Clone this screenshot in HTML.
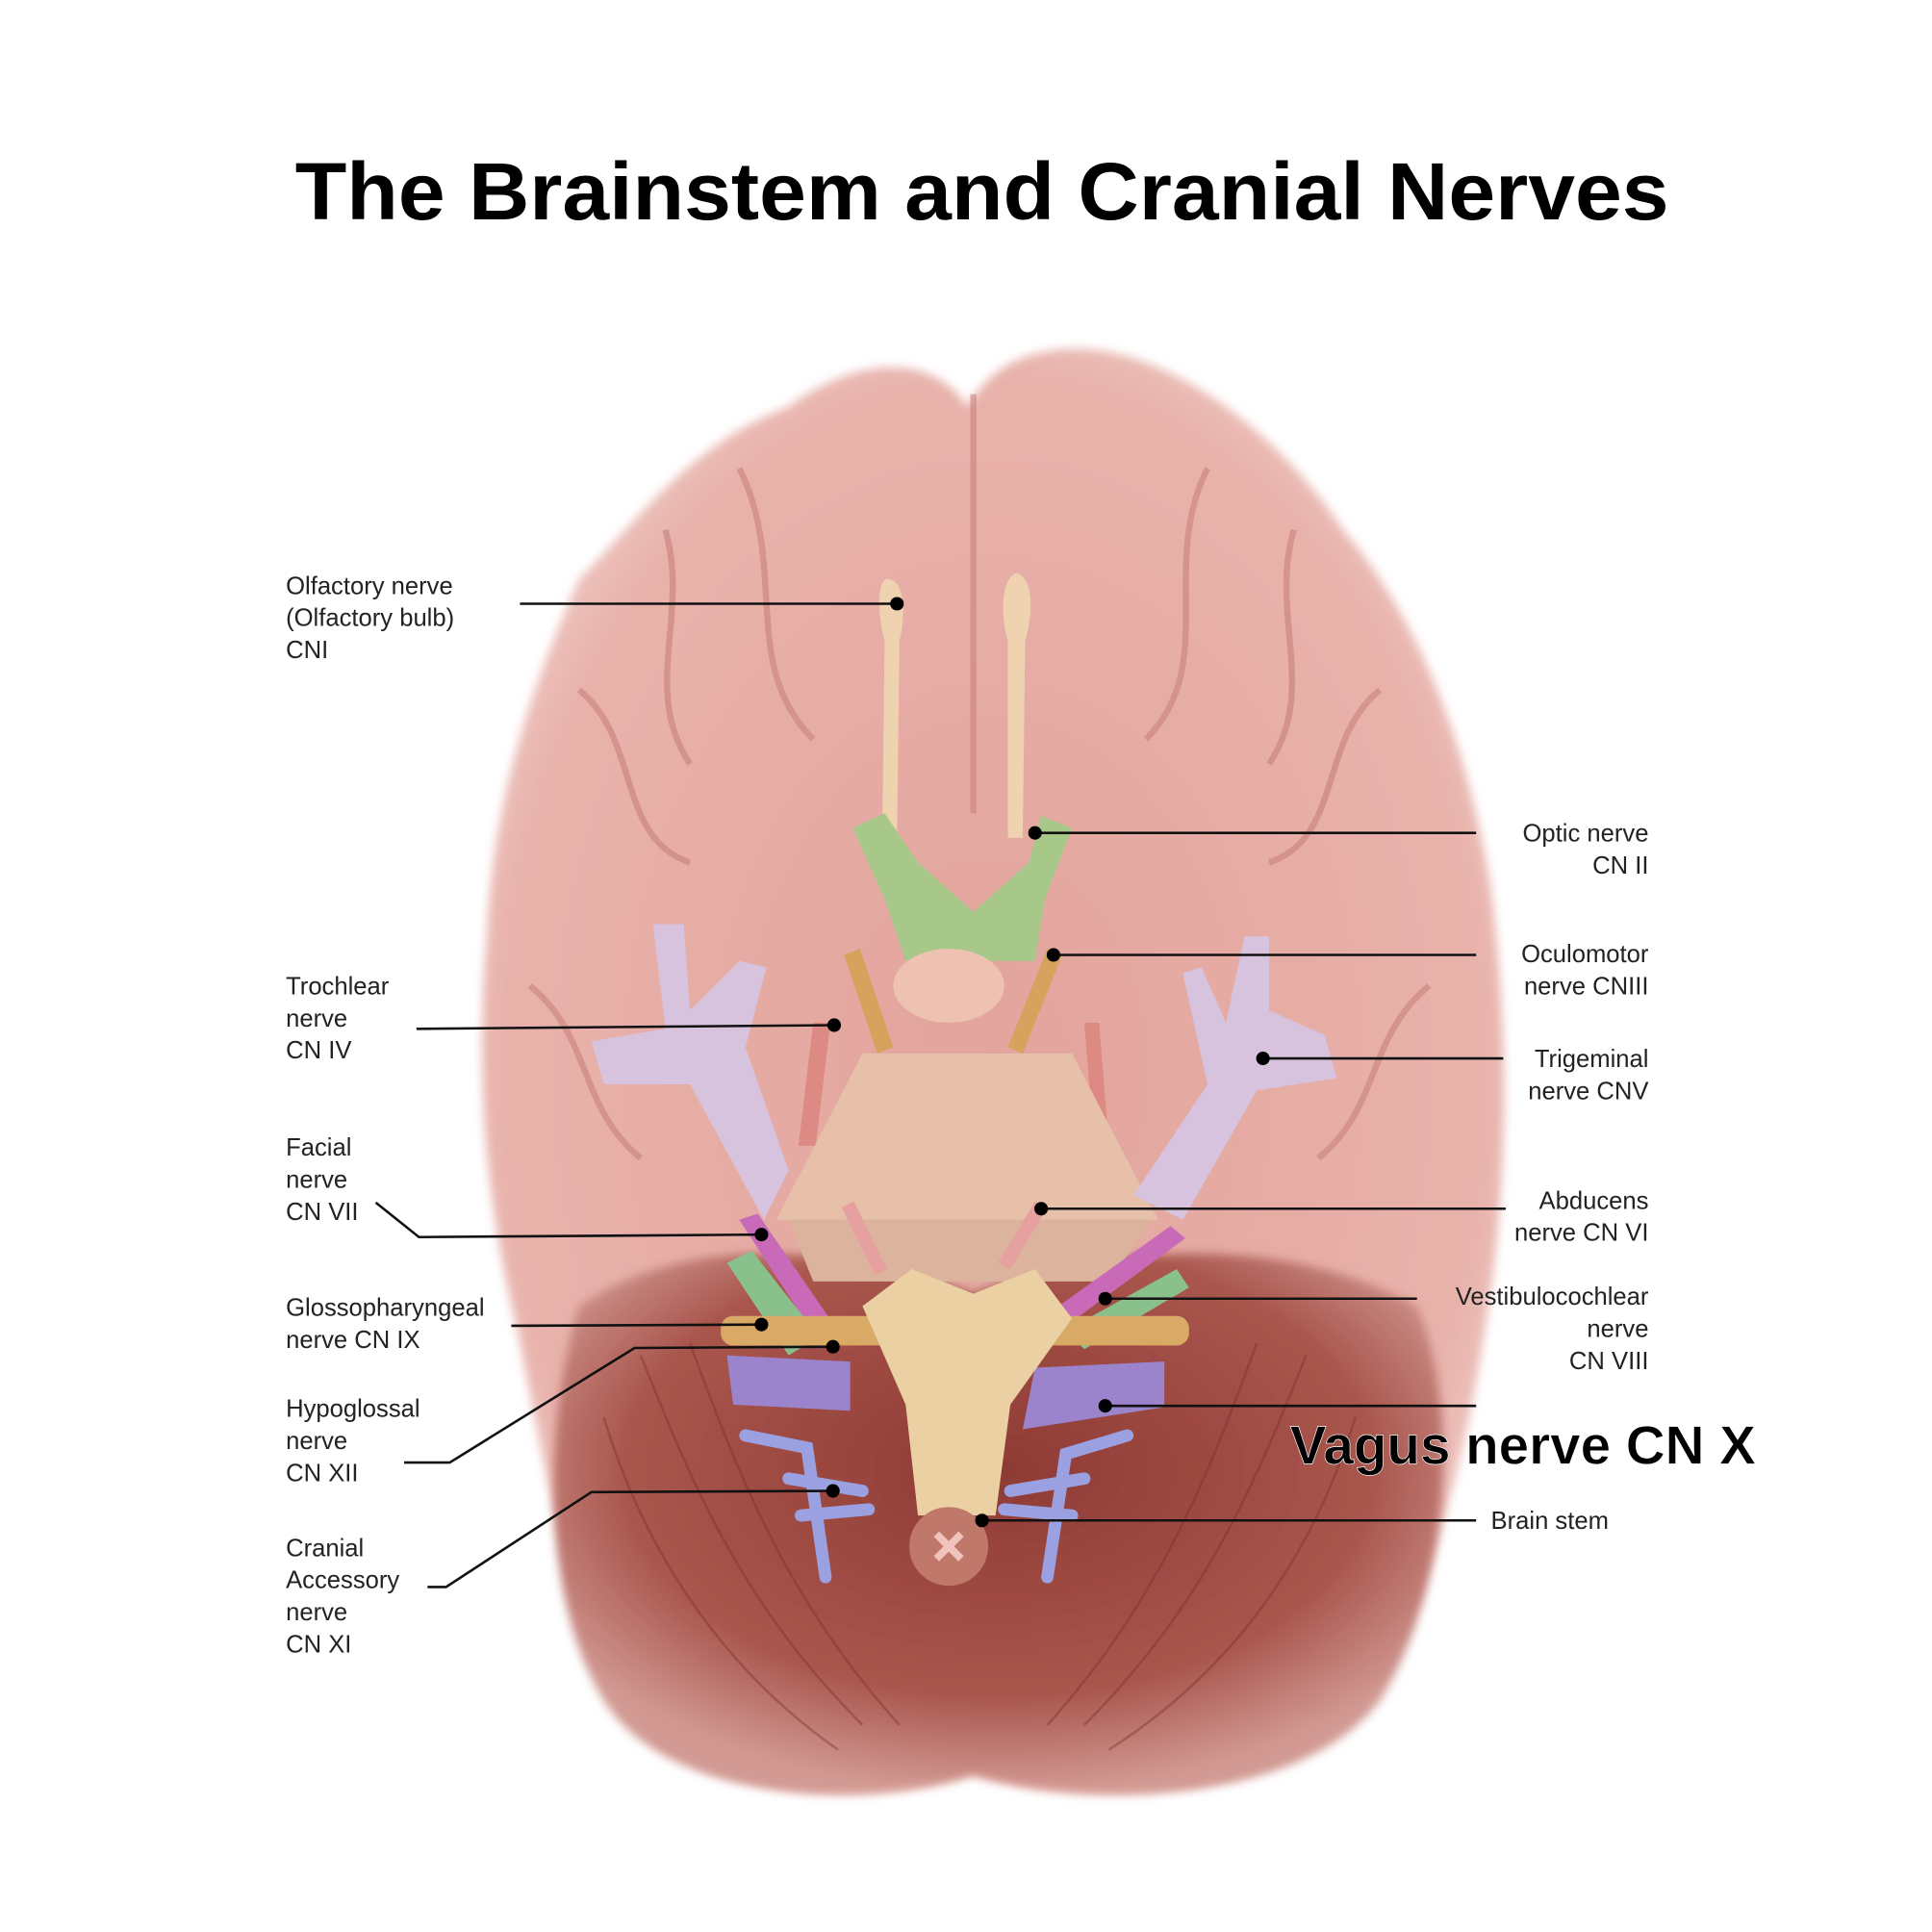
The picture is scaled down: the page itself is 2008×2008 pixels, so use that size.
<!DOCTYPE html>
<html><head><meta charset="utf-8"><style>
html,body{margin:0;padding:0;background:#fff;}
svg{display:block}
.l{font-family:"Liberation Sans",sans-serif;font-size:20px;fill:#222;}
.ln{stroke:#111;stroke-width:2;fill:none}
</style></head><body>
<svg width="2008" height="2008" viewBox="0 0 1568 1568" xmlns="http://www.w3.org/2000/svg">
<defs>
<radialGradient id="cb" cx="0.5" cy="0.4" r="0.6"><stop offset="0" stop-color="#8e3a34"/><stop offset="0.7" stop-color="#a9564d"/><stop offset="1" stop-color="#d29a93"/></radialGradient>
<radialGradient id="br" cx="0.5" cy="0.5" r="0.6"><stop offset="0" stop-color="#e2a49c"/><stop offset="0.8" stop-color="#e8b2ab"/><stop offset="1" stop-color="#f3d6d2"/></radialGradient>
<filter id="bl"><feGaussianBlur stdDeviation="4"/></filter>
</defs>
<rect width="1568" height="1568" fill="#fff"/>
<text x="797" y="178" text-anchor="middle" font-family="Liberation Sans,sans-serif" font-weight="bold" font-size="66" fill="#000" textLength="1115" lengthAdjust="spacingAndGlyphs">The Brainstem and Cranial Nerves</text>
<!-- cerebrum -->
<path d="M785,330 C760,290 700,285 640,330 C560,360 520,420 470,470 C430,560 400,650 395,760 C385,880 395,980 420,1080 C440,1180 460,1300 500,1380 C560,1460 700,1470 790,1440 C880,1470 1040,1460 1110,1380 C1160,1300 1190,1180 1205,1080 C1225,960 1225,840 1210,720 C1190,600 1150,500 1090,430 C1030,340 930,270 850,285 C820,290 800,305 785,330 Z" fill="url(#br)" filter="url(#bl)"/>
<!-- cerebellum -->
<path d="M470,1060 C560,1000 680,1010 790,1050 C900,1010 1040,1000 1150,1060 C1190,1160 1170,1300 1120,1380 C1060,1460 900,1470 790,1440 C690,1470 540,1460 490,1380 C440,1300 440,1160 470,1060 Z" fill="url(#cb)" filter="url(#bl)"/>
<g stroke="#c47d76" stroke-width="5" fill="none" opacity="0.55">
<path d="M790,320 L790,660"/><path d="M600,380 C640,460 600,540 660,600"/><path d="M980,380 C940,460 990,540 930,600"/>
<path d="M470,560 C520,600 500,680 560,700"/><path d="M1120,560 C1070,600 1090,680 1030,700"/>
<path d="M430,800 C480,840 470,900 520,940"/><path d="M1160,800 C1110,840 1120,900 1070,940"/>
<path d="M540,430 C560,500 520,560 560,620"/><path d="M1050,430 C1030,500 1070,560 1030,620"/>
</g>
<g stroke="#7a2e2a" stroke-width="2" fill="none" opacity="0.4">
<path d="M520,1100 C560,1200 600,1300 700,1400"/><path d="M560,1090 C600,1200 640,1300 730,1400"/><path d="M490,1150 C520,1250 580,1350 680,1420"/>
<path d="M1060,1100 C1020,1200 980,1300 880,1400"/><path d="M1020,1090 C980,1200 940,1300 850,1400"/><path d="M1100,1150 C1070,1250 1010,1350 900,1420"/>
</g>
<!-- olfactory -->
<path d="M720,470 C735,470 735,500 730,520 L728,680 L716,680 L718,520 C712,500 712,470 720,470Z" fill="#efd2b0"/>
<path d="M825,465 C840,470 838,500 832,520 L830,680 L818,680 L818,520 C812,500 812,470 825,465Z" fill="#efd2b0"/>
<!-- optic chiasm -->
<path d="M692,672 L718,660 L745,700 L790,740 L835,700 L845,662 L870,672 L848,730 L840,780 L735,780 L718,730 Z" fill="#a8c88a"/>
<ellipse cx="770" cy="800" rx="45" ry="30" fill="#edc2b0"/>
<!-- oculomotor -->
<path d="M685,775 L698,770 L725,850 L712,855Z" fill="#d6a25e"/>
<path d="M850,770 L862,775 L830,855 L818,850Z" fill="#d6a25e"/>
<!-- trochlear -->
<path d="M660,830 L674,830 L662,930 L648,930Z" fill="#de8a84"/>
<path d="M880,830 L892,830 L900,930 L888,930Z" fill="#de8a84"/>
<!-- pons -->
<path d="M700,855 L870,855 L940,990 L630,990 Z" fill="#e6c0a8"/>
<path d="M640,990 L935,990 L900,1040 L660,1040Z" fill="#dcb49e"/>
<!-- trigeminal -->
<path d="M530,750 L555,750 L560,820 L600,780 L622,785 L605,850 L640,950 L620,990 L560,880 L490,880 L480,845 L540,835 Z" fill="#d7c3de"/>
<path d="M1010,760 L1030,760 L1030,820 L1075,840 L1085,875 L1020,885 L960,990 L920,970 L980,880 L960,790 L975,785 L995,830 Z" fill="#d7c3de"/>
<!-- facial / vestibulocochlear -->
<path d="M600,990 L615,985 L680,1080 L665,1090Z" fill="#c86ab8"/>
<path d="M590,1025 L610,1015 L665,1085 L640,1100Z" fill="#89c08c"/>
<path d="M950,995 L962,1005 L860,1080 L848,1068Z" fill="#c86ab8"/>
<path d="M955,1030 L965,1045 L880,1095 L865,1080Z" fill="#89c08c"/>
<!-- abducens -->
<path d="M683,980 L693,975 L720,1030 L710,1035Z" fill="#e6a0a0"/>
<path d="M840,975 L850,980 L820,1030 L810,1025Z" fill="#e6a0a0"/>
<!-- glosso -->
<rect x="585" y="1068" width="380" height="24" rx="10" fill="#d9a966"/>
<!-- vagus -->
<path d="M590,1100 L690,1105 L690,1145 L595,1140Z" fill="#9c84cc"/>
<path d="M840,1110 L945,1105 L945,1142 L830,1160Z" fill="#9c84cc"/>
<!-- hypoglossal / accessory -->
<g stroke="#9aa0e0" stroke-width="10" fill="none" stroke-linecap="round">
<path d="M605,1165 L655,1175 L670,1280"/><path d="M640,1200 L700,1210"/><path d="M650,1230 L705,1225"/>
<path d="M915,1165 L865,1180 L850,1280"/><path d="M880,1200 L820,1210"/><path d="M870,1230 L815,1225"/>
</g>
<!-- medulla -->
<path d="M700,1060 L740,1030 L790,1050 L840,1030 L870,1070 L820,1140 L808,1230 L745,1230 L735,1140 Z" fill="#ead0a2"/>
<circle cx="770" cy="1255" r="32" fill="#c0786a"/>
<path d="M760,1245 L780,1265 M780,1245 L760,1265" stroke="#f0c4bc" stroke-width="6"/>
<!-- labels left -->
<text class="l"><tspan x="232" y="482">Olfactory nerve</tspan><tspan x="232" y="508">(Olfactory bulb)</tspan><tspan x="232" y="534">CNI</tspan></text>
<text class="l"><tspan x="232" y="807">Trochlear</tspan><tspan x="232" y="833">nerve</tspan><tspan x="232" y="859">CN IV</tspan></text>
<text class="l"><tspan x="232" y="938">Facial</tspan><tspan x="232" y="964">nerve</tspan><tspan x="232" y="990">CN VII</tspan></text>
<text class="l"><tspan x="232" y="1068">Glossopharyngeal</tspan><tspan x="232" y="1094">nerve CN IX</tspan></text>
<text class="l"><tspan x="232" y="1150">Hypoglossal</tspan><tspan x="232" y="1176">nerve</tspan><tspan x="232" y="1202">CN XII</tspan></text>
<text class="l"><tspan x="232" y="1263">Cranial</tspan><tspan x="232" y="1289">Accessory</tspan><tspan x="232" y="1315">nerve</tspan><tspan x="232" y="1341">CN XI</tspan></text>
<!-- labels right -->
<text class="l" text-anchor="end"><tspan x="1338" y="683">Optic nerve</tspan><tspan x="1338" y="709">CN II</tspan></text>
<text class="l" text-anchor="end"><tspan x="1338" y="781">Oculomotor</tspan><tspan x="1338" y="807">nerve CNIII</tspan></text>
<text class="l" text-anchor="end"><tspan x="1338" y="866">Trigeminal</tspan><tspan x="1338" y="892">nerve CNV</tspan></text>
<text class="l" text-anchor="end"><tspan x="1338" y="981">Abducens</tspan><tspan x="1338" y="1007">nerve CN VI</tspan></text>
<text class="l" text-anchor="end"><tspan x="1338" y="1059">Vestibulocochlear</tspan><tspan x="1338" y="1085">nerve</tspan><tspan x="1338" y="1111">CN VIII</tspan></text>
<text x="1047" y="1188" font-family="Liberation Sans,sans-serif" font-weight="bold" font-size="44" fill="#000" textLength="378" lengthAdjust="spacingAndGlyphs" stroke="#fff" stroke-width="0.5">Vagus nerve CN X</text>
<text class="l" x="1210" y="1241">Brain stem</text>
<!-- leader lines -->
<g class="ln">
<path d="M422,490 L728,490"/><path d="M840,676 L1198,676"/><path d="M855,775 L1198,775"/><path d="M1025,859 L1220,859"/>
<path d="M845,981 L1222,981"/><path d="M897,1054 L1150,1054"/><path d="M897,1141 L1198,1141"/><path d="M797,1234 L1198,1234"/>
<path d="M338,835 L677,832"/><path d="M305,976 L340,1004 L618,1002"/><path d="M415,1076 L618,1075"/>
<path d="M328,1187 L365,1187 L515,1094 L676,1093"/><path d="M347,1288 L362,1288 L480,1211 L676,1210"/>
</g>
<g fill="#000">
<circle cx="728" cy="490" r="5.5"/><circle cx="840" cy="676" r="5.5"/><circle cx="855" cy="775" r="5.5"/><circle cx="1025" cy="859" r="5.5"/>
<circle cx="845" cy="981" r="5.5"/><circle cx="897" cy="1054" r="5.5"/><circle cx="897" cy="1141" r="5.5"/><circle cx="797" cy="1234" r="5.5"/>
<circle cx="677" cy="832" r="5.5"/><circle cx="618" cy="1002" r="5.5"/><circle cx="618" cy="1075" r="5.5"/><circle cx="676" cy="1093" r="5.5"/><circle cx="676" cy="1210" r="5.5"/>
</g>
</svg>
</body></html>
